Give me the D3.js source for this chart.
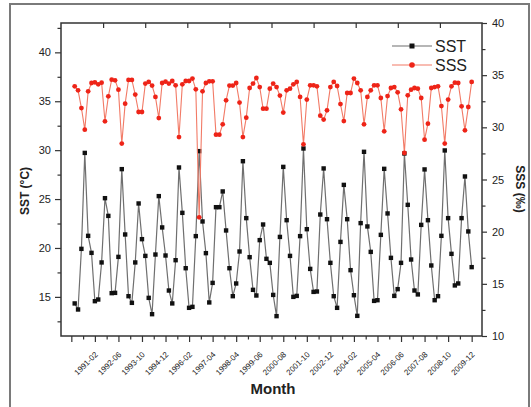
<!DOCTYPE html>
<html>
<head>
<meta charset="utf-8">
<script src="https://cdn.jsdelivr.net/npm/d3@7"></script>
<style>
  html, body { margin: 0; padding: 0; background: #fff; }
  svg { display: block; font-family: "Liberation Sans", Arial, sans-serif; }
</style>
</head>
<body>
<svg id="chart" width="531" height="407"></svg>
<script>
// ---------------- data ----------------
const sst = [14.33,13.71,19.91,29.72,21.24,19.50,14.56,14.73,18.52,25.09,
  23.28,15.38,15.41,19.09,28.06,21.38,15.07,14.39,18.52,24.55,
  20.90,19.19,14.90,13.23,19.33,25.30,22.10,19.23,15.65,14.33,
  18.75,28.23,23.59,17.93,13.88,13.98,21.21,29.90,22.71,19.47,
  14.43,16.43,24.17,24.17,25.78,21.79,17.93,15.07,16.37,19.64,
  28.87,23.05,19.06,15.72,15.14,20.80,22.40,18.89,18.48,15.20,
  13.03,21.13,28.29,22.84,19.19,15.00,15.10,21.21,30.17,21.92,
  17.86,15.51,15.55,23.42,28.13,22.94,18.48,15.07,13.88,20.62,
  26.45,22.94,17.73,15.17,13.06,22.54,29.83,22.20,19.60,14.59,
  14.66,21.34,28.09,23.53,18.99,15.10,15.79,18.48,29.66,24.41,
  18.82,15.65,15.25,22.36,28.03,22.84,18.21,14.66,15.07,21.24,
  29.97,23.05,19.40,16.17,16.37,23.05,27.31,21.69,18.04];

const sss = [33.93,33.55,31.85,29.78,33.45,34.25,34.31,34.12,34.28,30.58,
  32.97,34.57,34.51,33.61,28.44,32.27,34.54,34.54,33.14,31.47,
  31.47,34.19,34.35,34.00,32.91,30.89,34.25,34.38,34.19,34.44,
  34.03,29.07,34.12,34.44,34.44,34.67,33.64,21.37,33.45,34.25,
  34.41,34.41,29.30,29.30,30.29,32.59,34.00,34.00,34.25,32.37,
  29.07,30.93,33.77,34.19,34.73,33.86,31.79,31.79,33.71,34.19,
  33.86,33.04,31.41,33.55,33.71,34.12,34.35,32.91,28.37,32.66,
  34.03,34.03,33.93,31.12,30.74,31.63,33.86,34.35,33.96,32.23,
  30.60,33.29,33.29,34.67,34.25,33.55,30.29,32.91,33.55,34.03,
  34.03,32.81,29.62,33.00,33.77,33.86,33.36,31.73,27.54,33.07,
  33.61,33.77,33.71,32.81,28.82,30.35,33.77,33.86,33.93,32.04,
  28.44,32.66,33.93,34.28,34.25,32.01,29.71,31.95,34.35];

// category labels for the major ticks of the x axis (every 7th point, from point 6)
const monthLabels = ["1991-02","1992-06","1993-10","1994-12","1996-02","1997-04",
  "1998-04","1999-06","2000-08","2001-10","2002-12","2004-02","2005-04",
  "2006-06","2007-08","2008-10","2009-12"];
const labelStart = 6, labelStep = 7;

const leftTicks = [15, 20, 25, 30, 35, 40];
const rightTicks = [10, 15, 20, 25, 30, 35, 40];

// ---------------- layout ----------------
const svg = d3.select("#chart");
const L = 61, R = 482, T = 23, B = 336;

const x = d3.scaleLinear().domain([-4.07, 121.07]).range([L, R]);
const yL = d3.scaleLinear().domain([11, 43]).range([B, T]);
const yR = d3.scaleLinear().domain([10, 40]).range([B, T]);

// outer figure border
svg.append("rect").attr("x", 10).attr("y", 4).attr("width", 519).attr("height", 410)
  .attr("fill", "#fff").attr("stroke", "#7a7a7a").attr("stroke-width", 2);

const axisColor = "#333";
function styleAxis(g) {
  g.select(".domain").remove();
  g.selectAll("line").attr("stroke", axisColor).attr("stroke-width", 1.2);
  g.selectAll("text").attr("fill", "#222");
}

// bottom axis: major ticks with labels, minor between
const majorIdx = d3.range(labelStart - labelStep, sst.length, labelStep);
const minorIdx = majorIdx.map(d => d + labelStep / 2).filter(d => d < sst.length);
svg.append("g").attr("transform", `translate(0,${B})`)
  .call(d3.axisBottom(x).tickValues(minorIdx).tickSize(3.5).tickFormat(""))
  .call(styleAxis);
const gxb = svg.append("g").attr("transform", `translate(0,${B})`)
  .call(d3.axisBottom(x).tickValues(majorIdx).tickSize(6).tickFormat(""))
  .call(styleAxis);
gxb.selectAll(".tick").each(function(d) {
  const k = (d - labelStart) / labelStep;
  if (k < 0 || k >= monthLabels.length) return;
  d3.select(this).append("text")
    .attr("transform", "translate(1,17) rotate(-45)")
    .attr("text-anchor", "end").attr("dy", "0.35em")
    .attr("font-size", 8).attr("fill", "#222")
    .text(monthLabels[k]);
});

// top axis: 10 equal divisions, inward ticks
const xTop = d3.scaleLinear().domain([0, 10]).range([L, R]);
svg.append("g").attr("transform", `translate(0,${T})`)
  .call(d3.axisBottom(xTop).tickValues(d3.range(1, 10)).tickSize(5).tickFormat(""))
  .call(styleAxis);

// left axis
svg.append("g").attr("transform", `translate(${L},0)`)
  .call(d3.axisLeft(yL).tickValues(d3.range(12.5, 43, 5)).tickSize(3.5).tickFormat(""))
  .call(styleAxis);
svg.append("g").attr("transform", `translate(${L},0)`)
  .call(d3.axisLeft(yL).tickValues(leftTicks).tickSize(6).tickPadding(4))
  .call(styleAxis)
  .selectAll("text").attr("font-size", 11);

// right axis
svg.append("g").attr("transform", `translate(${R},0)`)
  .call(d3.axisRight(yR).tickValues(d3.range(12.5, 40, 5)).tickSize(3.5).tickFormat(""))
  .call(styleAxis);
svg.append("g").attr("transform", `translate(${R},0)`)
  .call(d3.axisRight(yR).tickValues(rightTicks).tickSize(5).tickPadding(5))
  .call(styleAxis)
  .selectAll("text").attr("font-size", 11);

// frame
svg.append("rect").attr("x", L).attr("y", T).attr("width", R - L).attr("height", B - T)
  .attr("fill", "none").attr("stroke", axisColor).attr("stroke-width", 1.5);

// axis titles
svg.append("text").attr("transform", "translate(29,191) rotate(-90)")
  .attr("text-anchor", "middle").attr("font-size", 12).attr("font-weight", "bold")
  .attr("fill", "#222").text("SST (°C)");
svg.append("text").attr("transform", "translate(516,189) rotate(90)")
  .attr("text-anchor", "middle").attr("font-size", 12).attr("font-weight", "bold")
  .attr("fill", "#222").text("SSS (‰)");
svg.append("text").attr("x", 273).attr("y", 394)
  .attr("text-anchor", "middle").attr("font-size", 15).attr("font-weight", "bold")
  .attr("fill", "#222").text("Month");

// ---------------- series ----------------
const sstColor = "#111", sstLine = "#6f6f6f";
const sssColor = "#ee2418", sssLine = "#f27a66";

svg.append("path").datum(sst)
  .attr("fill", "none").attr("stroke", sstLine).attr("stroke-width", 1.2)
  .attr("d", d3.line().x((d, i) => x(i)).y(d => yL(d)));
svg.append("g").selectAll("rect").data(sst).join("rect")
  .attr("x", (d, i) => x(i) - 2.2).attr("y", d => yL(d) - 2.2)
  .attr("width", 4.4).attr("height", 4.4).attr("fill", sstColor);

svg.append("path").datum(sss)
  .attr("fill", "none").attr("stroke", sssLine).attr("stroke-width", 1.1)
  .attr("d", d3.line().x((d, i) => x(i)).y(d => yR(d)));
svg.append("g").selectAll("circle").data(sss).join("circle")
  .attr("cx", (d, i) => x(i)).attr("cy", d => yR(d))
  .attr("r", 2.4).attr("fill", sssColor);

// ---------------- legend ----------------
const legend = svg.append("g");
const lx0 = 392, lx1 = 432;
legend.append("line").attr("x1", lx0).attr("x2", lx1).attr("y1", 46).attr("y2", 46)
  .attr("stroke", sstLine).attr("stroke-width", 1.2);
legend.append("rect").attr("x", (lx0 + lx1) / 2 - 2.5).attr("y", 46 - 2.5)
  .attr("width", 5).attr("height", 5).attr("fill", sstColor);
legend.append("text").attr("x", 435).attr("y", 51.5).attr("font-size", 16)
  .attr("fill", "#222").text("SST");
legend.append("line").attr("x1", lx0).attr("x2", lx1).attr("y1", 65).attr("y2", 65)
  .attr("stroke", sssLine).attr("stroke-width", 1.1);
legend.append("circle").attr("cx", (lx0 + lx1) / 2).attr("cy", 65).attr("r", 2.8)
  .attr("fill", sssColor);
legend.append("text").attr("x", 435).attr("y", 70.5).attr("font-size", 16)
  .attr("fill", "#222").text("SSS");
</script>
</body>
</html>
